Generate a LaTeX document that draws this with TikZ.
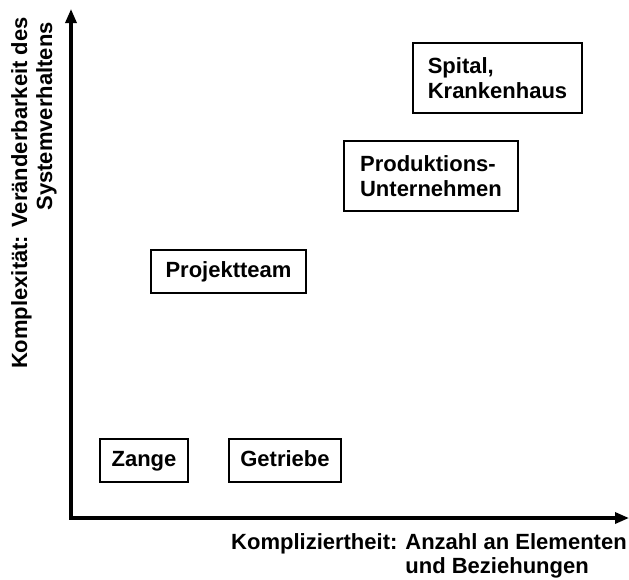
\documentclass[tikz,border=0pt]{standalone}
\usepackage{fontspec}
\setmainfont{Liberation Sans}
\usetikzlibrary{arrows.meta}
\begin{document}
\begin{tikzpicture}[x=1pt,y=-1pt,
  lbl/.style={font=\fontsize{22}{25}\selectfont\bfseries, inner sep=0pt},
  sysbox/.style={lbl, draw, line width=1.5pt, align=left, anchor=center},
  oneline/.style={text height=15.5pt, text depth=4.5pt},
  axisline/.style={line width=3.2pt, -{Triangle[length=14pt,width=11pt]}}]
  \useasboundingbox (0,0) rectangle (629,579);

  % axes
  \coordinate (origin) at (71,518);
  \coordinate (ytip) at (71,9);
  \coordinate (xtip) at (629,518);
  \draw[axisline] ([xshift=-1.6pt]origin) -- (xtip);
  \draw[axisline] ([yshift=1.6pt]origin) -- (ytip);

  % axis labels
  \node[lbl, rotate=90, anchor=east, align=right] (ylabel) at (34,17)
    {Komplexität: Veränderbarkeit des\\Systemverhaltens\hspace*{5pt}};
  \node[lbl, anchor=north west] (xlabel) at (231,532)
    {\begin{tabular}{@{}l@{\hspace{8pt}}l@{}}
     Kompliziertheit: & Anzahl an Elementen\\[-1pt]
                      & und Beziehungen
     \end{tabular}};

  % systems
  \node[sysbox, minimum width=169pt, minimum height=70pt] (spital) at (497.5,78)
    {Spital,\\Krankenhaus};
  \node[sysbox, minimum width=174pt, minimum height=70pt] (prod) at (431,176)
    {Produktions-\\Unternehmen};
  \node[sysbox, oneline, minimum width=155pt, minimum height=43pt] (projekt) at (228.5,271.5)
    {Projektteam};
  \node[sysbox, oneline, minimum width=88pt, minimum height=43pt] (zange) at (144,460.5)
    {Zange};
  \node[sysbox, oneline, minimum width=112pt, minimum height=43pt] (getriebe) at (285,460.5)
    {Getriebe};
\end{tikzpicture}
\end{document}
